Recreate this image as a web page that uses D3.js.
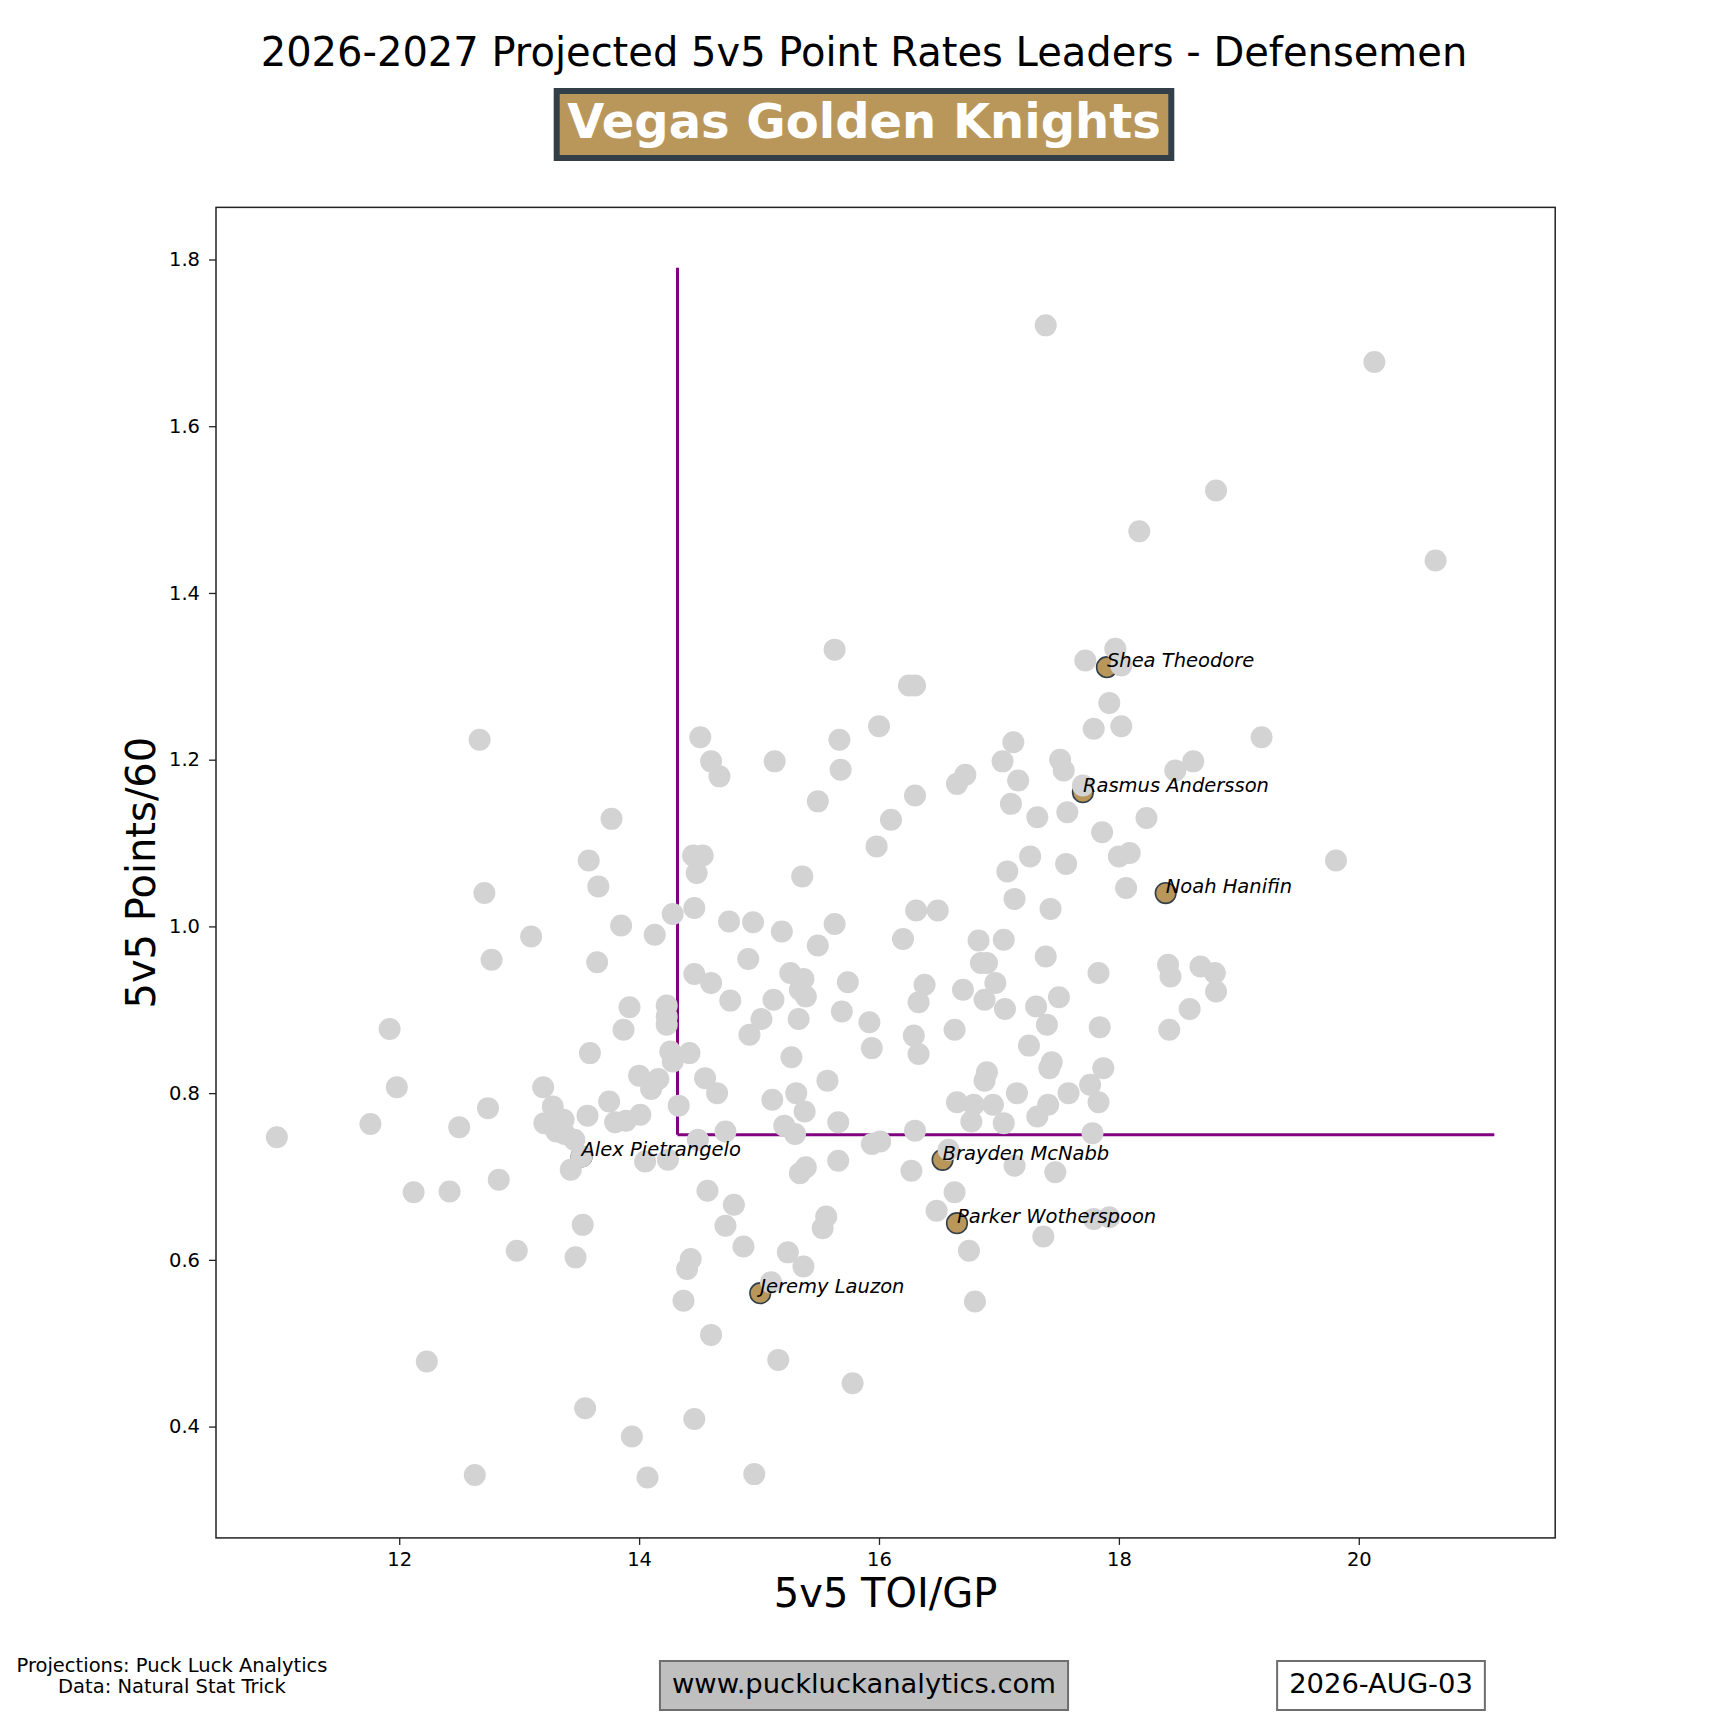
<!DOCTYPE html>
<html>
<head>
<meta charset="utf-8">
<script src="https://cdn.jsdelivr.net/npm/d3@7"></script>
<style>
  body { margin: 0; background: #fff; }
  text { font-family: "DejaVu Sans", sans-serif; }
</style>
</head>
<body>
<div id="container"></div>
<script>
// League defensemen (grey dots)
const leagueToi = [17.39,20.13,18.81,18.17,20.64,17.72,17.97,18.02,15.63,16.25,16.30,17.92,16.00,18.02,17.79,12.67,14.51,15.67,17.12,19.19,
  14.60,15.13,17.03,17.51,18.62,14.67,15.68,16.72,17.54,18.47,16.65,17.16,17.70,15.49,16.30,17.10,17.32,17.57,13.77,16.10,
  18.23,17.86,15.98,13.58,14.45,14.53,17.26,18.00,18.09,19.81,17.56,13.66,14.48,15.36,17.07,12.71,18.06,17.13,14.28,14.46,
  14.75,14.95,15.63,16.31,16.49,17.43,13.85,13.10,14.13,15.19,16.20,16.83,17.04,15.49,17.39,12.77,13.65,14.91,16.85,16.90,
  18.41,18.68,15.26,14.46,17.83,18.80,14.60,15.37,15.74,16.38,16.97,18.43,16.70,15.34,15.39,18.81,14.76,15.12,16.33,16.88,
  17.50,13.92,14.23,15.69,17.05,17.31,18.59,14.23,15.02,15.33,14.23,15.92,17.40,13.87,11.92,16.63,17.84,18.42,14.92,16.29,
  17.25,15.94,13.59,14.26,14.42,16.33,15.27,14.28,17.44,17.42,17.87,16.90,14.00,14.16,14.55,15.57,16.88,14.10,11.98,13.20,
  17.76,15.31,17.15,17.58,14.65,11.76,12.50,12.74,13.75,13.28,14.33,15.11,16.65,16.79,16.95,17.41,17.83,13.57,14.01,15.38,
  17.32,13.37,13.89,13.80,15.66,15.21,16.77,17.04,13.21,13.31,13.38,14.72,15.30,16.30,17.78,10.98,14.49,13.46,16.01,15.94,
  13.52,13.43,14.05,14.24,15.66,15.39,15.34,16.27,16.58,17.13,17.47,12.12,12.42,12.83,14.57,16.63,14.79,16.48,15.56,15.53,
  13.53,14.72,17.79,17.92,17.37,12.98,14.87,15.24,16.75,13.47,14.43,14.40,15.37,15.10,14.37,16.80,14.60,15.16,12.23,15.78,
  13.55,14.46,13.94,12.63,14.07,14.96];
const leaguePts = [1.721,1.677,1.523,1.474,1.439,1.319,1.333,1.313,1.332,1.289,1.289,1.268,1.240,1.240,1.237,1.224,1.227,1.224,1.221,1.227,
  1.198,1.198,1.198,1.200,1.198,1.180,1.188,1.182,1.187,1.187,1.171,1.175,1.169,1.150,1.157,1.147,1.131,1.137,1.129,1.128,
  1.130,1.113,1.096,1.079,1.085,1.085,1.084,1.084,1.088,1.079,1.075,1.048,1.064,1.060,1.066,1.040,1.046,1.033,1.015,1.022,
  1.006,1.005,1.003,1.019,1.019,1.021,1.001,0.988,0.990,0.994,0.985,0.983,0.984,0.977,0.964,0.960,0.957,0.961,0.956,0.956,
  0.954,0.952,0.944,0.943,0.944,0.944,0.932,0.937,0.933,0.930,0.932,0.940,0.924,0.924,0.916,0.922,0.911,0.912,0.909,0.912,
  0.915,0.903,0.905,0.898,0.901,0.904,0.901,0.892,0.889,0.889,0.882,0.885,0.882,0.876,0.877,0.876,0.879,0.876,0.870,0.869,
  0.857,0.854,0.848,0.850,0.848,0.847,0.843,0.838,0.837,0.830,0.830,0.825,0.821,0.817,0.818,0.815,0.815,0.805,0.807,0.807,
  0.810,0.800,0.800,0.800,0.800,0.763,0.759,0.782,0.790,0.784,0.785,0.792,0.789,0.786,0.786,0.786,0.789,0.773,0.774,0.778,
  0.772,0.768,0.767,0.765,0.765,0.761,0.766,0.764,0.764,0.754,0.751,0.754,0.751,0.755,0.752,0.747,0.744,0.744,0.742,0.739,
  0.724,0.708,0.718,0.720,0.719,0.711,0.704,0.707,0.732,0.713,0.705,0.681,0.682,0.696,0.683,0.681,0.666,0.659,0.652,0.638,
  0.642,0.641,0.649,0.651,0.628,0.611,0.616,0.609,0.611,0.603,0.601,0.589,0.592,0.573,0.551,0.550,0.510,0.480,0.478,0.452,
  0.422,0.409,0.388,0.342,0.339,0.343];

// Vegas defensemen
const teamNames = ["Shea Theodore","Rasmus Andersson","Noah Hanifin","Alex Pietrangelo","Brayden McNabb","Parker Wotherspoon","Jeremy Lauzon"];
const teamToi = [17.90,17.70,18.39,13.52,16.53,16.65,15.01];
const teamPts = [1.311,1.161,1.040,0.724,0.720,0.644,0.560];

// Threshold lines
const cutToi = 14.32;
const cutPts = 0.75;
const cutTopPts = 1.79;
const cutRightToi = 21.13;

const xTicks = [12,14,16,18,20];
const yTicks = [0.4,0.6,0.8,1.0,1.2,1.4,1.6,1.8];

const titleText = "2026-2027 Projected 5v5 Point Rates Leaders - Defensemen";
const teamText = "Vegas Golden Knights";
const footerLines = ["Projections: Puck Luck Analytics","Data: Natural Stat Trick"];
const siteText = "www.puckluckanalytics.com";
const dateText = "2026-AUG-03";

//Create dimensions
const width = 1728;
const height = 1728;
const plotLeft = 0.125 * width, plotRight = 0.9 * width;
const plotTop = 0.12 * height, plotBottom = 0.89 * height;

const gold = "#b9975b";
const slate = "#333f48";

const svg = d3.select("#container")
  .append("svg")
  .attr("width", width)
  .attr("height", height)
  .style("background", "#fff");

//Scales with 5% padding like matplotlib
const xMin = d3.min(leagueToi.concat(teamToi, [cutToi]));
const xMax = d3.max(leagueToi.concat(teamToi, [cutRightToi]));
const yMin = d3.min(leaguePts.concat(teamPts, [cutPts]));
const yMax = d3.max(leaguePts.concat(teamPts, [cutTopPts]));
const xPad = (xMax - xMin) * 0.05, yPad = (yMax - yMin) * 0.05;

const x = d3.scaleLinear().domain([xMin - xPad, xMax + xPad]).range([plotLeft, plotRight]);
const y = d3.scaleLinear().domain([yMin - yPad, yMax + yPad]).range([plotBottom, plotTop]);

//Axes
const xAxis = svg.append("g")
  .attr("transform", `translate(0,${plotBottom})`)
  .call(d3.axisBottom(x).tickValues(xTicks).tickFormat(d3.format("d")).tickSize(7).tickPadding(7).tickSizeOuter(0));
const yAxis = svg.append("g")
  .attr("transform", `translate(${plotLeft},0)`)
  .call(d3.axisLeft(y).tickValues(yTicks).tickFormat(d3.format(".1f")).tickSize(7).tickPadding(9).tickSizeOuter(0));

[xAxis, yAxis].forEach(a => {
  a.select(".domain").remove();
  a.selectAll("line").attr("stroke", "#222").attr("stroke-width", 1.3);
  a.selectAll("text").attr("fill", "#000").style("font-size", "19.5px").style("font-family", "DejaVu Sans");
});

//Threshold lines
const cuts = svg.append("g");
cuts.append("line")
  .attr("x1", x(cutToi)).attr("x2", x(cutToi))
  .attr("y1", y(cutPts)).attr("y2", y(cutTopPts))
  .attr("stroke", "#800080").attr("stroke-width", 3);
cuts.append("line")
  .attr("x1", x(cutToi)).attr("x2", x(cutRightToi))
  .attr("y1", y(cutPts)).attr("y2", y(cutPts))
  .attr("stroke", "#800080").attr("stroke-width", 3);

const team = teamNames.map((n, i) => ({name: n, toi: teamToi[i], pts: teamPts[i]}));
const league = leagueToi.map((t, i) => ({toi: t, pts: leaguePts[i]}));

//Team markers go under the league dots
svg.append("g").selectAll("circle")
  .data(team)
  .join("circle")
  .attr("cx", d => x(d.toi))
  .attr("cy", d => y(d.pts))
  .attr("r", 10.3)
  .attr("fill", gold)
  .attr("stroke", slate)
  .attr("stroke-width", 1.6);

svg.append("g").selectAll("circle")
  .data(league)
  .join("circle")
  .attr("cx", d => x(d.toi))
  .attr("cy", d => y(d.pts))
  .attr("r", 11)
  .attr("fill", "#d3d3d3");

//Player labels
svg.append("g").selectAll("text")
  .data(team)
  .join("text")
  .attr("x", d => x(d.toi))
  .attr("y", d => y(d.pts))
  .style("font-size", "19.5px")
  .style("font-style", "italic")
  .attr("fill", "#000")
  .text(d => d.name);

//Frame
svg.append("rect")
  .attr("x", plotLeft).attr("y", plotTop)
  .attr("width", plotRight - plotLeft).attr("height", plotBottom - plotTop)
  .attr("fill", "none").attr("stroke", "#222").attr("stroke-width", 1.5);

//Axis titles
svg.append("text")
  .attr("x", (plotLeft + plotRight) / 2).attr("y", 1607)
  .attr("text-anchor", "middle")
  .style("font-size", "40px")
  .text("5v5 TOI/GP");
svg.append("text")
  .attr("transform", `translate(155,${(plotTop + plotBottom) / 2}) rotate(-90)`)
  .attr("text-anchor", "middle")
  .style("font-size", "40px")
  .text("5v5 Points/60");

//Title
svg.append("text")
  .attr("x", width / 2).attr("y", 65.5)
  .attr("text-anchor", "middle")
  .style("font-size", "40px")
  .text(titleText);

//Team badge
const badge = svg.append("g");
const badgeRect = badge.append("rect");
const badgeText = badge.append("text")
  .attr("x", width / 2).attr("y", 137.5)
  .attr("text-anchor", "middle")
  .style("font-size", "48px")
  .style("font-weight", "bold")
  .attr("fill", "#fff")
  .text(teamText);
const tw = badgeText.node().getComputedTextLength();
badgeRect
  .attr("x", width / 2 - tw / 2 - 10.5).attr("y", 91)
  .attr("width", tw + 21).attr("height", 67)
  .attr("fill", gold).attr("stroke", slate).attr("stroke-width", 6);

//Footer
svg.append("text")
  .attr("text-anchor", "middle")
  .style("font-size", "19.5px")
  .selectAll("tspan")
  .data(footerLines)
  .join("tspan")
  .attr("x", 172)
  .attr("y", (d, i) => 1671.7 + i * 21)
  .text(d => d);

function boxedText(txt, cx, fill) {
  const g = svg.append("g");
  const r = g.append("rect");
  const t = g.append("text")
    .attr("x", cx).attr("y", 1693)
    .attr("text-anchor", "middle")
    .style("font-size", "27.4px")
    .text(txt);
  const w = t.node().getComputedTextLength();
  r.attr("x", cx - w / 2 - 12).attr("y", 1661)
    .attr("width", w + 24).attr("height", 49)
    .attr("fill", fill).attr("stroke", "#6e6e6e").attr("stroke-width", 2);
}
boxedText(siteText, 864, "#bfbfbf");
boxedText(dateText, 1381, "#fff");
</script>
</body>
</html>
